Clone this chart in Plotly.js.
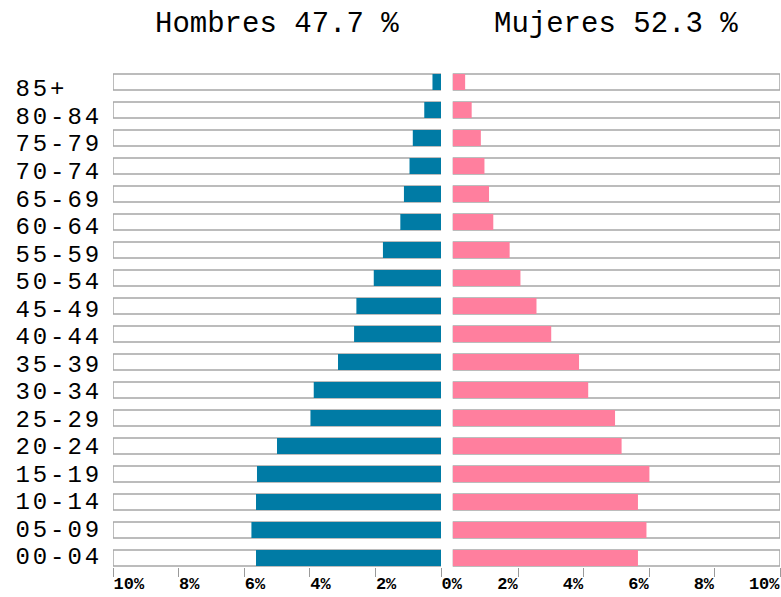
<!DOCTYPE html>
<html>
<head>
<meta charset="utf-8">
<script src="https://cdn.plot.ly/plotly-3.0.1.min.js"></script>
<style>
html,body{margin:0;padding:0;background:#fff;}
#chart{width:781px;height:597px;}
#chart .y2tick text{letter-spacing:2.9px;}
</style>
</head>
<body>
<div id="chart"></div>
<script>
// Data
var ageGroups = ['00-04','05-09','10-14','15-19','20-24','25-29','30-34','35-39','40-44','45-49','50-54','55-59','60-64','65-69','70-74','75-79','80-84','85+'];
var maleValues = [5.64,5.78,5.64,5.61,5.00,3.98,3.88,3.14,2.65,2.58,2.05,1.77,1.24,1.13,0.96,0.86,0.51,0.26];
var femaleValues = [5.66,5.92,5.66,6.01,5.16,4.96,4.14,3.86,3.01,2.56,2.07,1.74,1.24,1.11,0.97,0.86,0.58,0.38];
var axisMax = 10;
var tickValues = [0,2,4,6,8,10];
var tickLabels = ['0%','2%','4%','6%','8%','10%'];
var maleTitle = 'Hombres 47.7 %';
var femaleTitle = 'Mujeres 52.3 %';

var W = 781;
var FONT = '"Liberation Mono", "Courier New", monospace';
var barW = 0.57;
var bgFull = ageGroups.map(function(){ return axisMax; });
var rowIndex = ageGroups.map(function(_, i){ return i; });
var zeros = ageGroups.map(function(){ return 0; });

function padLabel(s){ while (s.length < 5) s += '\u00a0'; return s; }

var traces = [
  {type:'bar', orientation:'h', y:ageGroups, x:bgFull, xaxis:'x', yaxis:'y', width:barW,
   marker:{color:'#ffffff', line:{color:'#a6a6a6', width:1.5}}, hoverinfo:'skip', showlegend:false},
  {type:'bar', orientation:'h', y:ageGroups, x:bgFull, xaxis:'x2', yaxis:'y', width:barW,
   marker:{color:'#ffffff', line:{color:'#a6a6a6', width:1.5}}, hoverinfo:'skip', showlegend:false},
  {type:'bar', orientation:'h', y:ageGroups, x:maleValues, xaxis:'x', yaxis:'y', width:barW,
   marker:{color:'#007ba5', line:{width:0}}, name:'Hombres', showlegend:false},
  {type:'bar', orientation:'h', y:ageGroups, x:femaleValues, xaxis:'x2', yaxis:'y', width:barW,
   marker:{color:'#ff7f9e', line:{width:0}}, name:'Mujeres', showlegend:false},
  // invisible helper so the label axis is drawn
  {type:'scatter', mode:'markers', x:zeros, y:rowIndex, xaxis:'x', yaxis:'y2',
   marker:{opacity:0, size:1}, hoverinfo:'skip', showlegend:false}
];

var leftDom = [113/W, 441/W];
var rightDom = [452.7/W, 780/W];

var xTickFont = {family:FONT, size:17, color:'#000', weight:'bold'};

var layout = {
  width: 781, height: 597,
  margin: {l:0, r:0, t:68, b:30, pad:0},
  paper_bgcolor:'#ffffff', plot_bgcolor:'rgba(0,0,0,0)',
  barmode:'overlay', showlegend:false,
  font:{family:FONT, color:'#000'},
  xaxis: {domain:leftDom, range:[axisMax, 0], anchor:'y', showgrid:false, zeroline:false, showline:false,
    tickmode:'array', tickvals:tickValues, ticktext:tickLabels, ticks:'outside', ticklen:9, tickwidth:1, tickcolor:'#9a9a9a',
    ticklabelposition:'outside right', ticklabelstandoff:1, tickfont:xTickFont, fixedrange:true},
  xaxis2: {domain:rightDom, range:[0, axisMax], anchor:'y', showgrid:false, zeroline:false, showline:false,
    tickmode:'array', tickvals:tickValues.slice(1), ticktext:tickLabels.slice(1), ticks:'outside', ticklen:9, tickwidth:1, tickcolor:'#9a9a9a',
    ticklabelposition:'outside left', ticklabelstandoff:1, tickfont:xTickFont, fixedrange:true},
  yaxis: {type:'category', categoryorder:'array', categoryarray:ageGroups, range:[-0.32, 17.5],
    showticklabels:false, showgrid:false, zeroline:false, showline:false, ticks:'', fixedrange:true},
  yaxis2: {type:'linear', overlaying:'y', anchor:'x', side:'left', range:[-0.40, 17.726],
    tickmode:'array', tickvals:rowIndex, ticktext:ageGroups.map(padLabel),
    showgrid:false, zeroline:false, showline:false, ticks:'', ticklabelstandoff:10,
    tickfont:{family:FONT, size:24, color:'#000'}, fixedrange:true},
  annotations: [
    {text:maleTitle, xref:'paper', yref:'paper', x:(leftDom[0]+leftDom[1])/2, y:1, yshift:44, xanchor:'center', yanchor:'middle', showarrow:false, font:{family:FONT, size:29, color:'#000'}},
    {text:femaleTitle, xref:'paper', yref:'paper', x:(rightDom[0]+rightDom[1])/2, y:1, yshift:44, xanchor:'center', yanchor:'middle', showarrow:false, font:{family:FONT, size:29, color:'#000'}}
  ]
};

Plotly.newPlot('chart', traces, layout, {displayModeBar:false, staticPlot:true});
</script>
</body>
</html>
